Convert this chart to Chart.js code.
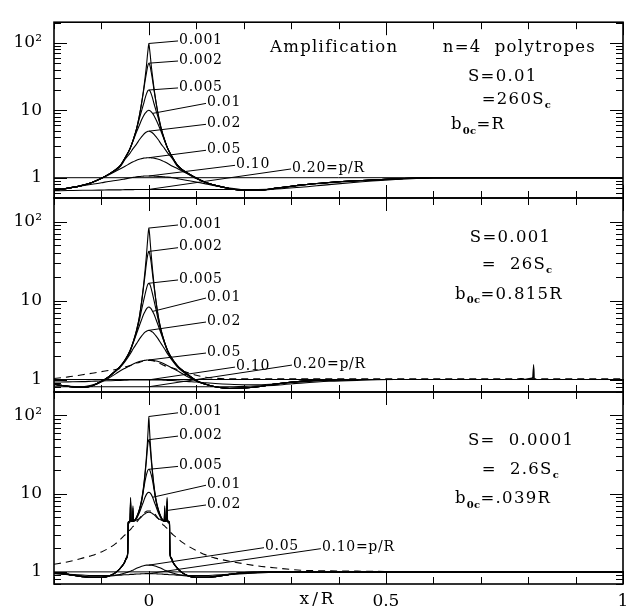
<!DOCTYPE html>
<html>
<head>
<meta charset="utf-8">
<script src="https://cdn.jsdelivr.net/npm/chart.js@4/dist/chart.umd.min.js"></script>
<style>
  html, body { margin: 0; padding: 0; background: #fff; }
  #wrap { position: relative; width: 639px; height: 614px; overflow: hidden; }
  #wrap canvas { position: absolute; left: 0; top: 0; }
</style>
</head>
<body>
<div id="wrap">
  <canvas id="c1" width="639" height="614"></canvas>
  <canvas id="c2" width="639" height="614"></canvas>
  <canvas id="c3" width="639" height="614"></canvas>
</div>
<script>
// Source sizes p/R, one curve each
const pLabels = ['0.001', '0.002', '0.005', '0.01', '0.02', '0.05', '0.10', '0.20'];

// ---- S = 0.01 panel ----
const x1 = [-0.2,-0.17,-0.14,-0.12,-0.1,-0.085,-0.07,-0.06,-0.05,-0.04,-0.033,-0.026,-0.02,-0.015,-0.011,-0.008,-0.005,-0.003,-0.0015,
  0,
  0.0015,0.003,0.005,0.008,0.011,0.015,0.02,0.026,0.033,0.04,0.05,0.06,0.07,0.085,0.1,0.12,0.14,0.17,0.2,
  0.23,0.27,0.32,0.38,0.45,0.52,0.6,0.7,0.85,1.0];
const a1_001 = [0.65,0.70,0.77,0.85,0.98,1.12,1.32,1.52,1.98,2.68,3.65,5.3,8.3,13.2,20.5,30,46,65,81, 98,
  82,66,47,31,21,13.5,8.5,5.4,3.7,2.7,2.0,1.55,1.33,1.14,0.99,0.85,0.77,0.69,0.65,
  0.65,0.70,0.78,0.85,0.91,0.96,1.0,1.0,1.0,1.0];
const a1_002 = [0.65,0.70,0.77,0.85,0.98,1.12,1.32,1.52,1.98,2.68,3.65,5.3,8.25,13,19.5,27,36,43,47.5, 50,
  48,44,37,27.5,19.8,13.2,8.4,5.4,3.7,2.7,2.0,1.55,1.33,1.14,0.99,0.85,0.77,0.69,0.65,
  0.65,0.70,0.78,0.85,0.91,0.96,1.0,1.0,1.0,1.0];
const a1_005 = [0.65,0.70,0.77,0.85,0.98,1.12,1.31,1.51,1.97,2.66,3.6,5.2,7.5,10,12.5,15,17.5,19,19.7, 20,
  19.7,19,17.5,15,12.5,10,7.6,5.2,3.6,2.68,1.98,1.54,1.32,1.14,0.99,0.85,0.77,0.69,0.65,
  0.65,0.70,0.78,0.85,0.91,0.96,1.0,1.0,1.0,1.0];
const a1_01 = [0.65,0.70,0.77,0.85,0.98,1.12,1.31,1.5,1.96,2.65,3.55,4.75,6.0,7.3,8.3,9.0,9.5,9.8,9.95, 10,
  9.95,9.8,9.5,9.0,8.3,7.3,6.1,4.8,3.6,2.68,1.98,1.54,1.32,1.13,0.99,0.85,0.77,0.69,0.65,
  0.65,0.70,0.78,0.85,0.91,0.96,1.0,1.0,1.0,1.0];
const a1_02 = [0.65,0.70,0.77,0.85,0.98,1.12,1.29,1.47,1.88,2.3,2.72,3.15,3.65,4.07,4.4,4.6,4.76,4.85,4.88, 4.9,
  4.88,4.85,4.76,4.6,4.4,4.07,3.65,3.15,2.72,2.32,1.9,1.48,1.29,1.12,0.98,0.85,0.77,0.69,0.65,
  0.65,0.70,0.78,0.85,0.91,0.96,1.0,1.0,1.0,1.0];
const a1_05 = [0.65,0.70,0.77,0.85,0.97,1.1,1.25,1.36,1.48,1.62,1.72,1.82,1.88,1.92,1.95,1.96,1.97,1.98,1.98, 1.98,
  1.98,1.98,1.97,1.96,1.95,1.92,1.88,1.82,1.72,1.62,1.48,1.37,1.26,1.11,0.97,0.85,0.77,0.69,0.65,
  0.65,0.70,0.78,0.85,0.91,0.96,1.0,1.0,1.0,1.0];
const a1_10 = [0.65,0.70,0.76,0.80,0.84,0.88,0.91,0.93,0.96,0.99,1.01,1.03,1.04,1.05,1.055,1.06,1.06,1.06,1.06, 1.06,
  1.06,1.06,1.06,1.06,1.055,1.05,1.045,1.04,1.03,1.02,1.0,0.97,0.94,0.9,0.86,0.81,0.76,0.7,0.66,
  0.65,0.69,0.77,0.84,0.9,0.96,1.0,1.0,1.0,1.0];
const a1_20 = [0.64,0.645,0.65,0.65,0.655,0.66,0.66,0.66,0.665,0.665,0.665,0.67,0.67,0.67,0.67,0.67,0.67,0.67,0.67, 0.67,
  0.67,0.67,0.67,0.67,0.67,0.67,0.67,0.67,0.67,0.67,0.67,0.67,0.67,0.67,0.67,0.67,0.67,0.67,0.67,
  0.67,0.68,0.72,0.79,0.87,0.94,0.99,1.0,1.0,1.0];

// ---- S = 0.001 panel ----
const x2 = [-0.2,-0.17,-0.14,-0.12,-0.1,-0.085,-0.07,-0.06,-0.05,-0.04,-0.033,-0.026,-0.02,-0.015,-0.011,-0.008,-0.005,-0.003,-0.0015,
  0,
  0.0015,0.003,0.005,0.008,0.011,0.015,0.02,0.026,0.033,0.04,0.05,0.06,0.07,0.085,0.1,0.12,0.14,0.17,0.2,
  0.23,0.27,0.32,0.38,0.45,0.52,0.6,0.7,0.78,0.785,0.79,0.8,0.805,0.81,0.8115,0.8125,0.815,0.85,1.0];
const a2_001 = [0.87,0.82,0.8,0.83,0.95,1.08,1.3,1.48,1.78,2.3,3.0,4.2,6.2,10,16,24,38,54,70, 83,
  70,54,38,24,16,10,6.3,4.2,3.0,2.3,1.8,1.5,1.32,1.12,0.97,0.87,0.81,0.77,0.78,
  0.81,0.88,0.95,0.99,1.0,1.0,1.0,1.0,1.0,1.03,1.0,1.02,1.04,1.06,1.55,1.0,1.0,1.0,1.0];
const a2_002 = [0.87,0.82,0.8,0.83,0.95,1.08,1.3,1.48,1.78,2.3,3.0,4.2,6.15,9.8,15,21,30,36,40, 42,
  40,36,30,21,15,9.8,6.15,4.2,3.0,2.3,1.8,1.5,1.32,1.12,0.97,0.87,0.81,0.77,0.78,
  0.81,0.88,0.95,0.99,1.0,1.0,1.0,1.0,1.0,1.02,1.0,1.01,1.03,1.05,1.45,1.0,1.0,1.0,1.0];
const a2_005 = [0.87,0.82,0.8,0.83,0.95,1.08,1.3,1.47,1.77,2.27,2.95,4.0,5.6,7.8,10,12,14.2,15.6,16.3, 16.6,
  16.3,15.6,14.2,12,10,7.8,5.6,4.0,2.95,2.28,1.79,1.5,1.32,1.12,0.97,0.87,0.81,0.77,0.78,
  0.81,0.88,0.95,0.99,1.0,1.0,1.0,1.0,1.0,1.0,1.0,1.0,1.0,1.0,1.0,1.0,1.0,1.0,1.0];
const a2_01 = [0.87,0.82,0.8,0.83,0.95,1.08,1.29,1.46,1.75,2.22,2.9,3.8,4.8,5.8,6.7,7.3,7.85,8.1,8.25, 8.3,
  8.25,8.1,7.85,7.3,6.7,5.8,4.8,3.8,2.9,2.25,1.78,1.49,1.31,1.12,0.97,0.87,0.81,0.77,0.78,
  0.81,0.88,0.95,0.99,1.0,1.0,1.0,1.0,1.0,1.0,1.0,1.0,1.0,1.0,1.0,1.0,1.0,1.0,1.0];
const a2_02 = [0.87,0.82,0.8,0.83,0.95,1.08,1.27,1.44,1.7,2.08,2.45,2.85,3.25,3.58,3.82,3.98,4.1,4.16,4.19, 4.2,
  4.19,4.16,4.1,3.98,3.82,3.58,3.25,2.85,2.45,2.1,1.72,1.45,1.28,1.1,0.96,0.87,0.81,0.77,0.78,
  0.81,0.88,0.95,0.99,1.0,1.0,1.0,1.0,1.0,1.0,1.0,1.0,1.0,1.0,1.0,1.0,1.0,1.0,1.0];
const a2_05 = [0.86,0.82,0.81,0.85,0.93,1.04,1.18,1.29,1.39,1.49,1.57,1.64,1.69,1.72,1.74,1.75,1.76,1.77,1.77, 1.77,
  1.77,1.77,1.76,1.75,1.74,1.72,1.69,1.64,1.57,1.49,1.39,1.29,1.19,1.06,0.96,0.87,0.81,0.78,0.78,
  0.81,0.88,0.95,0.99,1.0,1.0,1.0,1.0,1.0,1.0,1.0,1.0,1.0,1.0,1.0,1.0,1.0,1.0,1.0];
const a2_10 = [0.93,0.935,0.94,0.95,0.96,0.965,0.97,0.975,0.98,0.985,0.985,0.99,0.99,0.99,0.99,0.99,0.99,0.99,0.99, 0.99,
  0.99,0.99,0.99,0.99,0.99,0.99,0.99,0.985,0.98,0.975,0.97,0.96,0.95,0.94,0.93,0.91,0.89,0.87,0.86,
  0.86,0.88,0.93,0.97,1.0,1.0,1.0,1.0,1.0,1.0,1.0,1.0,1.0,1.0,1.0,1.0,1.0,1.0,1.0];
const a2_20 = [0.81,0.81,0.81,0.81,0.81,0.81,0.81,0.81,0.81,0.81,0.81,0.81,0.81,0.81,0.81,0.81,0.81,0.81,0.81, 0.81,
  0.81,0.81,0.81,0.81,0.81,0.81,0.81,0.81,0.81,0.81,0.81,0.81,0.81,0.81,0.81,0.81,0.81,0.81,0.82,
  0.83,0.85,0.9,0.95,0.98,1.0,1.0,1.0,1.0,1.0,1.0,1.0,1.0,1.0,1.0,1.0,1.0,1.0,1.0];
const a2_dash = [1.03,1.08,1.15,1.2,1.26,1.3,1.34,1.38,1.44,1.5,1.56,1.61,1.65,1.69,1.71,1.73,1.74,1.75,1.75, 1.75,
  1.75,1.75,1.74,1.73,1.71,1.68,1.63,1.57,1.5,1.45,1.4,1.34,1.29,1.21,1.13,1.07,1.04,1.02,1.02,
  1.02,1.02,1.02,1.02,1.02,1.02,1.02,1.02,1.02,1.02,1.02,1.02,1.02,1.02,1.02,1.02,1.02,1.02,1.02];

// ---- S = 0.0001 panel ----
const x3 = [-0.2,-0.17,-0.14,-0.12,-0.1,-0.085,-0.07,-0.06,-0.052,-0.047,-0.0445,-0.0435,-0.0425,-0.0395,-0.0385,-0.0375,-0.0345,-0.0335,-0.0325,-0.03,-0.026,-0.02,-0.015,-0.011,-0.008,-0.005,-0.003,-0.0015,
  0,
  0.0015,0.003,0.005,0.008,0.011,0.015,0.02,0.026,0.03,0.0325,0.0335,0.0345,0.0375,0.0385,0.0395,0.0425,0.0435,0.0445,0.047,0.052,0.06,0.07,0.085,0.1,0.12,0.14,0.17,0.2,
  0.23,0.27,0.32,0.38,0.45,0.52,0.6,0.7,0.85,1.0];
const a3_001 = [0.98,0.93,0.87,0.85,0.85,0.88,0.98,1.12,1.3,1.52,1.8,4.3,4.4,4.6,9.0,4.6,4.5,7.0,4.5,4.6,5.0,6.3,8.5,12.5,18.5,30,45,65, 97,
  65,45,30,18.5,12.5,8.5,6.3,5.0,4.6,4.5,7.0,4.5,4.6,9.0,4.6,4.4,4.3,1.8,1.52,1.3,1.12,0.98,0.88,0.85,0.85,0.87,0.93,0.98,
  0.99,1.0,1.0,1.0,1.0,1.0,1.0,1.0,1.0,1.0];
const a3_002 = [0.98,0.93,0.87,0.85,0.85,0.88,0.98,1.12,1.3,1.52,1.8,4.3,4.4,4.6,8.6,4.6,4.5,6.6,4.5,4.6,4.95,6.2,8.3,12,17.5,27,38,46, 49,
  46,38,27,17.5,12,8.3,6.2,4.95,4.6,4.5,6.6,4.5,4.6,8.6,4.6,4.4,4.3,1.8,1.52,1.3,1.12,0.98,0.88,0.85,0.85,0.87,0.93,0.98,
  0.99,1.0,1.0,1.0,1.0,1.0,1.0,1.0,1.0,1.0];
const a3_005 = [0.98,0.93,0.87,0.85,0.85,0.88,0.98,1.12,1.3,1.52,1.78,4.25,4.35,4.55,8.0,4.55,4.5,6.0,4.5,4.55,4.9,6.1,8.0,11.3,14.5,17.5,19.3,20.2, 20.5,
  20.2,19.3,17.5,14.5,11.3,8.0,6.1,4.9,4.55,4.5,6.0,4.5,4.55,8.0,4.55,4.35,4.25,1.78,1.52,1.3,1.12,0.98,0.88,0.85,0.85,0.87,0.93,0.98,
  0.99,1.0,1.0,1.0,1.0,1.0,1.0,1.0,1.0,1.0];
const a3_01 = [0.98,0.93,0.87,0.85,0.85,0.88,0.98,1.12,1.3,1.5,1.75,4.2,4.3,4.5,7.5,4.5,4.45,5.5,4.45,4.5,4.8,5.7,6.9,8.0,9.0,9.8,10.2,10.35, 10.4,
  10.35,10.2,9.8,9.0,8.0,6.9,5.7,4.8,4.5,4.45,5.5,4.45,4.5,7.5,4.5,4.3,4.2,1.75,1.5,1.3,1.12,0.98,0.88,0.85,0.85,0.87,0.93,0.98,
  0.99,1.0,1.0,1.0,1.0,1.0,1.0,1.0,1.0,1.0];
const a3_02 = [0.98,0.93,0.87,0.85,0.85,0.88,0.98,1.11,1.28,1.48,1.7,4.1,4.2,4.4,6.1,4.4,4.4,5.0,4.4,4.5,4.6,4.8,5.1,5.4,5.55,5.7,5.75,5.78, 5.8,
  5.78,5.75,5.7,5.55,5.4,5.1,4.8,4.6,4.5,4.4,5.0,4.4,4.4,6.1,4.4,4.2,4.1,1.7,1.48,1.28,1.11,0.98,0.88,0.85,0.85,0.87,0.93,0.98,
  0.99,1.0,1.0,1.0,1.0,1.0,1.0,1.0,1.0,1.0];
const a3_05 = [0.96,0.92,0.88,0.86,0.86,0.88,0.9,0.93,0.96,0.98,0.99,1.0,1.0,1.02,1.02,1.03,1.05,1.05,1.06,1.08,1.11,1.15,1.18,1.2,1.21,1.22,1.22,1.22, 1.22,
  1.22,1.22,1.22,1.21,1.2,1.18,1.15,1.11,1.08,1.06,1.05,1.05,1.03,1.02,1.02,1.0,1.0,0.99,0.98,0.96,0.93,0.9,0.88,0.86,0.86,0.88,0.92,0.96,
  0.98,1.0,1.0,1.0,1.0,1.0,1.0,1.0,1.0,1.0];
const a3_10 = [0.95,0.93,0.91,0.9,0.9,0.9,0.91,0.91,0.92,0.92,0.92,0.92,0.92,0.93,0.93,0.93,0.93,0.93,0.93,0.935,0.94,0.94,0.945,0.945,0.95,0.95,0.95,0.95, 0.95,
  0.95,0.95,0.95,0.95,0.945,0.945,0.94,0.94,0.935,0.93,0.93,0.93,0.93,0.93,0.93,0.92,0.92,0.92,0.92,0.92,0.91,0.91,0.9,0.9,0.9,0.91,0.93,0.95,
  0.97,0.99,1.0,1.0,1.0,1.0,1.0,1.0,1.0,1.0];
const a3_dash = [1.25,1.35,1.5,1.62,1.8,2.0,2.3,2.6,2.9,3.1,3.2,3.25,3.3,3.45,3.5,3.55,3.75,3.8,3.85,4.0,4.3,4.8,5.3,5.6,5.8,5.95,6.0,6.0, 6.0,
  6.0,6.0,5.95,5.8,5.6,5.3,4.8,4.3,4.0,3.9,3.85,3.8,3.65,3.6,3.55,3.4,3.35,3.3,3.15,2.95,2.7,2.4,2.1,1.88,1.65,1.5,1.37,1.27,
  1.19,1.12,1.05,1.03,1.02,1.01,1.0,1.0,1.0,1.0];

// Axis tick labels
const yTickText = { 1: '1', 10: '10', 100: '10\u00B2' };
const xTickText = { 0: '0', 0.5: '0.5', 1: '1' };

const FONT = '"DejaVu Serif", "Liberation Serif", serif';

// Per-panel layout: value ranges, curve label placement, side annotations
const panels = [
  {
    id: 'c1', xs: x1, series: [a1_001, a1_002, a1_005, a1_01, a1_02, a1_05, a1_10, a1_20], dash: null,
    yMin: 0.50, yMax: 202.7, padTop: 5, padBottom: 416, showX: false,
    labels: [
      { c: 0, ax: 0, tx: 0.0637, ty: 110.5 }, { c: 1, ax: 0, tx: 0.0637, ty: 55.7 },
      { c: 2, ax: 0, tx: 0.0637, ty: 22.2 }, { c: 3, ax: 0.008, tx: 0.1227, ty: 13.1 },
      { c: 4, ax: 0, tx: 0.1227, ty: 6.41 }, { c: 5, ax: 0, tx: 0.1227, ty: 2.64 },
      { c: 6, ax: 0, tx: 0.1839, ty: 1.58 }, { c: 7, ax: 0, tx: 0.302, ty: 1.395, suffix: '=p/R' }
    ],
    notes: [
      { x: 0.2555, y: 84.8, parts: [['Amplification']] },
      { x: 0.62, y: 84.8, parts: [['n=4  polytropes']] },
      { x: 0.673, y: 31.3, parts: [['S=0.01']] },
      { x: 0.702, y: 14.4, parts: [['=260S'], ['c', 1]] },
      { x: 0.637, y: 6.03, parts: [['b'], ['0c', 1], ['=R']] }
    ]
  },
  {
    id: 'c2', xs: x2, series: [a2_001, a2_002, a2_005, a2_01, a2_02, a2_05, a2_10, a2_20], dash: a2_dash,
    yMin: 0.695, yMax: 199.6, padTop: 198, padBottom: 222, showX: false,
    labels: [
      { c: 0, ax: 0, tx: 0.0637, ty: 93.5 }, { c: 1, ax: 0, tx: 0.0637, ty: 48.2 },
      { c: 2, ax: 0, tx: 0.0637, ty: 18.8 }, { c: 3, ax: 0.008, tx: 0.1227, ty: 11.1 },
      { c: 4, ax: 0, tx: 0.1227, ty: 5.51 }, { c: 5, ax: 0, tx: 0.1227, ty: 2.23 },
      { c: 6, ax: 0, tx: 0.1839, ty: 1.48 }, { c: 7, ax: 0, tx: 0.304, ty: 1.57, suffix: '=p/R' }
    ],
    notes: [
      { x: 0.677, y: 62.1, parts: [['S=0.001']] },
      { x: 0.702, y: 28.3, parts: [['=  26S'], ['c', 1]] },
      { x: 0.6455, y: 11.8, parts: [['b'], ['0c', 1], ['=0.815R']] }
    ]
  },
  {
    id: 'c3', xs: x3, series: [a3_001, a3_002, a3_005, a3_01, a3_02, a3_05, a3_10], dash: a3_dash,
    yMin: 0.736, yMax: 199.6, padTop: 392, padBottom: 0, showX: true,
    labels: [
      { c: 0, ax: 0, tx: 0.0637, ty: 111.4 }, { c: 1, ax: 0, tx: 0.0637, ty: 56.1 },
      { c: 2, ax: 0, tx: 0.0637, ty: 23.0 }, { c: 3, ax: 0.008, tx: 0.1227, ty: 13.2 },
      { c: 4, ax: 0.0385, tx: 0.1227, ty: 7.38 }, { c: 5, ax: 0, tx: 0.245, ty: 2.10 },
      { c: 6, ax: 0, tx: 0.365, ty: 2.04, suffix: '=p/R' }
    ],
    notes: [
      { x: 0.673, y: 47.8, parts: [['S=  0.0001']] },
      { x: 0.702, y: 20.5, parts: [['=  2.6S'], ['c', 1]] },
      { x: 0.6455, y: 8.54, parts: [['b'], ['0c', 1], ['=.039R']] }
    ]
  }
];

function near(v, t) { return Math.abs(v - t) < 1e-6 * Math.max(1, Math.abs(t)); }

function drawRich(ctx, x, y, parts, size) {
  let cx = x;
  for (const [t, sub] of parts) {
    if (sub) {
      ctx.font = `bold ${Math.round(size * 0.6)}px ${FONT}`;
      ctx.letterSpacing = '0.3px';
    } else {
      ctx.font = `${size}px ${FONT}`;
      ctx.letterSpacing = '1.3px';
    }
    ctx.fillText(t, cx, sub ? y + size * 0.36 : y);
    cx += ctx.measureText(t).width;
  }
}

function makePanel(p) {
  const datasets = [{
    data: [{ x: -0.2, y: 1 }, { x: 1.0, y: 1 }], borderWidth: 1, tension: 0
  }];
  p.series.forEach(ys => datasets.push({
    data: p.xs.map((x, i) => ({ x, y: ys[i] })), borderWidth: 1.1
  }));
  if (p.dash) datasets.push({
    data: p.xs.map((x, i) => ({ x, y: p.dash[i] })), borderWidth: 1.1, borderDash: [7, 5]
  });

  const deco = {
    id: 'deco',
    afterDatasetsDraw(chart) {
      const { ctx, chartArea: ca, scales: { x, y } } = chart;
      ctx.save();
      ctx.strokeStyle = '#000';
      ctx.fillStyle = '#000';

      // inward tick marks on all four sides
      ctx.lineWidth = 1;
      ctx.beginPath();
      for (let e = -1; e <= 2; e++) {
        for (let k = 1; k <= 9; k++) {
          const v = k * Math.pow(10, e);
          if (v < y.min || v > y.max) continue;
          const py = Math.round(y.getPixelForValue(v)) + 0.5;
          const len = k === 1 ? 13 : 7;
          ctx.moveTo(ca.left, py); ctx.lineTo(ca.left + len, py);
          ctx.moveTo(ca.right, py); ctx.lineTo(ca.right - len, py);
        }
      }
      for (let i = -2; i <= 10; i++) {
        const px = Math.round(x.getPixelForValue(i / 10)) + 0.5;
        const len = i % 5 === 0 ? 13 : 7;
        ctx.moveTo(px, ca.top); ctx.lineTo(px, ca.top + len);
        ctx.moveTo(px, ca.bottom); ctx.lineTo(px, ca.bottom - len);
      }
      ctx.stroke();

      // frame
      ctx.lineWidth = 1.6;
      ctx.strokeRect(ca.left, ca.top, ca.right - ca.left, ca.bottom - ca.top);

      // curve labels with leader lines
      ctx.lineWidth = 1;
      ctx.textBaseline = 'middle';
      ctx.textAlign = 'left';
      for (const L of p.labels) {
        const idx = p.xs.findIndex(v => near(v, L.ax));
        const sx = x.getPixelForValue(L.ax);
        const sy = y.getPixelForValue(p.series[L.c][idx]);
        const tx = x.getPixelForValue(L.tx);
        const ty = y.getPixelForValue(L.ty);
        ctx.beginPath();
        ctx.moveTo(sx, sy);
        ctx.lineTo(tx - 1, ty + 1);
        ctx.stroke();
        ctx.font = `14px ${FONT}`;
        ctx.letterSpacing = '0.7px';
        ctx.fillText(pLabels[L.c] + (L.suffix || ''), tx, ty);
      }

      // side annotations
      for (const n of p.notes) {
        drawRich(ctx, x.getPixelForValue(n.x), y.getPixelForValue(n.y), n.parts, 16.5);
      }

      // axis title
      if (p.showX) {
        ctx.font = `17px ${FONT}`;
        ctx.letterSpacing = '3px';
        ctx.textAlign = 'center';
        ctx.fillText('x/R', x.getPixelForValue(0.357), ca.bottom + 16);
      }
      ctx.restore();
    }
  };

  return new Chart(document.getElementById(p.id), {
    type: 'line',
    data: { datasets },
    options: {
      responsive: false,
      animation: false,
      devicePixelRatio: 1,
      events: [],
      layout: { padding: { top: p.padTop, bottom: p.padBottom, left: 0, right: 16 } },
      plugins: { legend: { display: false }, tooltip: { enabled: false } },
      elements: {
        point: { radius: 0 },
        line: { borderColor: '#000', fill: false, cubicInterpolationMode: 'monotone', borderCapStyle: 'butt' }
      },
      scales: {
        x: {
          type: 'linear', min: -0.2, max: 1.0, display: p.showX,
          grid: { display: false, drawTicks: false }, border: { display: false },
          ticks: {
            stepSize: 0.1, autoSkip: false, maxRotation: 0, padding: 7, color: '#000',
            font: { family: FONT, size: 17 },
            callback: v => { for (const k in xTickText) if (near(v, +k)) return xTickText[k]; return ''; }
          },
          afterFit(s) { s.height = p.showX ? 30 : 0; }
        },
        y: {
          type: 'logarithmic', min: p.yMin, max: p.yMax,
          grid: { display: false, drawTicks: false }, border: { display: false },
          ticks: {
            autoSkip: false, padding: 12, color: '#000',
            font: { family: FONT, size: 17 },
            callback: v => { for (const k in yTickText) if (near(v, +k)) return yTickText[k]; return ''; }
          },
          afterFit(s) { s.width = 54; }
        }
      }
    },
    plugins: [deco]
  });
}

panels.forEach(makePanel);
</script>
</body>
</html>
